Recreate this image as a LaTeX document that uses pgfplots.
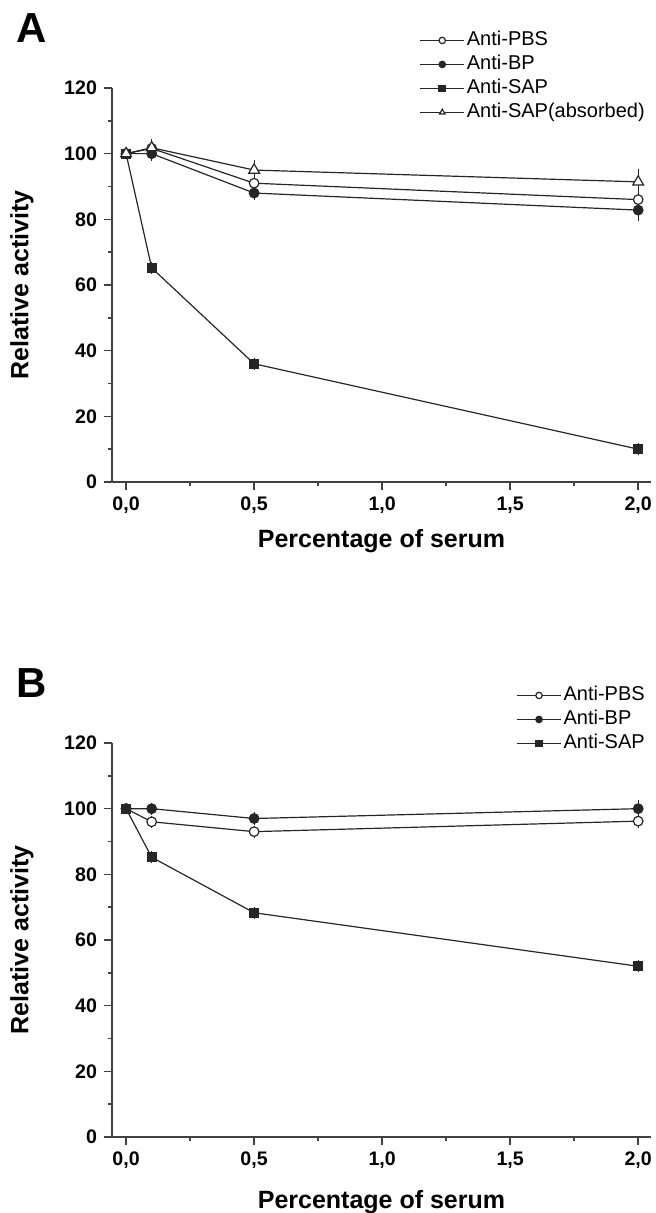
\documentclass[border=0pt]{standalone}
\usepackage{fontspec}
\setmainfont{Liberation Sans}
\usepackage{pgfplots}
\usepackage{pgfplotstable}
\pgfplotsset{compat=1.18}

% Panel A
\pgfplotstableread{
x    y     e
0    100   0
0.1  101.6 1.2
0.5  91.0  1.2
2.0  86.0  1.2
}\APBS
\pgfplotstableread{
x    y     e
0    100   0
0.1  100.0 0.8
0.5  88.0  0.8
2.0  82.8  2.0
}\ABP
\pgfplotstableread{
x    y     e
0    100   0
0.1  65.2  0.5
0.5  36.0  0.5
2.0  10.0  0.5
}\ASAP
\pgfplotstableread{
x    y     e
0    100   0
0.1  101.8 1.2
0.5  95.0  1.8
2.0  91.4  2.5
}\AABS
% Panel B
\pgfplotstableread{
x    y     e
0    100   0
0.1  96.0  0.5
0.5  93.0  0.5
2.0  96.2  0.6
}\BPBS
\pgfplotstableread{
x    y     e
0    100   0
0.1  100.0 0.5
0.5  97.0  0.5
2.0  100.0 1.2
}\BBP
\pgfplotstableread{
x    y     e
0    100   0
0.1  85.2  0.5
0.5  68.3  0.5
2.0  52.0  0.5
}\BSAP

\pgfplotsset{
 myaxis/.style={
  scale only axis, width=269.5pt, height=197pt,
  xmin=-0.055, xmax=2.05, ymin=0, ymax=120,
  clip=false,
  axis lines*=left,
  axis line style={black!75, line width=1pt},
  xtick={0,0.5,1,1.5,2}, minor xtick={0.25,0.75,1.25,1.75},
  ytick={0,20,...,120}, minor ytick={10,30,...,110},
  tick align=outside,
  major tick length=4pt, minor tick length=2pt,
  tick style={black!75, line width=0.8pt},
  xticklabel style={/pgf/number format/.cd, fixed, fixed zerofill, precision=1, use comma, assume math mode=true},
  yticklabel style={/pgf/number format/assume math mode=true},
  ticklabel style={font=\fontsize{9.8}{11}\selectfont\bfseries},
  xlabel={Percentage of serum}, ylabel={Relative activity},
  label style={font=\fontsize{12.5}{14}\selectfont\bfseries},
  ylabel style={at={(axis description cs:-0.167,0.5)}, anchor=center},
  legend style={draw=none, fill=none, font=\fontsize{10}{12}\selectfont, row sep=0.5pt, anchor=north east,
     nodes={inner sep=1pt, text height=7.5pt, text depth=2pt}},
  legend cell align=left,
  legend image code/.code={\draw[mark repeat=2,mark phase=2,#1,mark size=1.6pt] plot coordinates {(0pt,0pt)(11pt,0pt)(22pt,0pt)};},
 },
 ser/.style={line width=0.6pt, black!85},
 eb/.style={forget plot, draw=none, mark=none,
   error bars/y dir=both, error bars/y explicit,
   error bars/error mark=-,
   error bars/error bar style={line width=0.6pt, draw=black!85, solid},
   error bars/error mark options={line width=0.6pt, mark size=2.2pt, draw=black!85}},
}

\begin{document}
\begin{tikzpicture}
\useasboundingbox (0,0) rectangle (327.5pt,606.5pt);
\node[font=\fontsize{21}{24}\selectfont\bfseries] at (16pt,592.5pt) {A};
\node[font=\fontsize{21}{24}\selectfont\bfseries] at (16pt,265pt) {B};

\begin{axis}[myaxis, at={(56pt,365.5pt)}, anchor=south west,
  xlabel style={at={(axis description cs:0.5,-0.15)}, anchor=center},
  legend style={at={(axis description cs:1.004,1.161)}}]
% error bars first, so that markers cover them
\addplot[eb] table[x=x,y=y,y error=e]{\APBS};
\addplot[eb] table[x=x,y=y,y error=e]{\ABP};
\addplot[eb] table[x=x,y=y,y error=e]{\ASAP};
\addplot[eb] table[x=x,y=y,y error=e]{\AABS};
\addplot[ser, mark=*, mark size=2.4pt, mark options={solid, fill=white}] table[x=x,y=y]{\APBS};
\addlegendentry{Anti-PBS}
\addplot[ser, mark=*, mark size=2.4pt, mark options={solid}] table[x=x,y=y]{\ABP};
\addlegendentry{Anti-BP}
\addplot[ser, mark=square*, mark size=2.2pt, mark options={solid}] table[x=x,y=y]{\ASAP};
\addlegendentry{Anti-SAP}
\addplot[ser, mark=triangle*, mark size=3.1pt, mark options={solid, fill=white}] table[x=x,y=y]{\AABS};
\addlegendentry{Anti-SAP(absorbed)}
\end{axis}

\begin{axis}[myaxis, at={(56pt,38pt)}, anchor=south west,
  xlabel style={at={(axis description cs:0.5,-0.166)}, anchor=center},
  legend style={at={(axis description cs:1.004,1.161)}}]
\addplot[eb] table[x=x,y=y,y error=e]{\BPBS};
\addplot[eb] table[x=x,y=y,y error=e]{\BBP};
\addplot[eb] table[x=x,y=y,y error=e]{\BSAP};
\addplot[ser, mark=*, mark size=2.4pt, mark options={solid, fill=white}] table[x=x,y=y]{\BPBS};
\addlegendentry{Anti-PBS}
\addplot[ser, mark=*, mark size=2.4pt, mark options={solid}] table[x=x,y=y]{\BBP};
\addlegendentry{Anti-BP}
\addplot[ser, mark=square*, mark size=2.2pt, mark options={solid}] table[x=x,y=y]{\BSAP};
\addlegendentry{Anti-SAP}
\end{axis}
\end{tikzpicture}
\end{document}
